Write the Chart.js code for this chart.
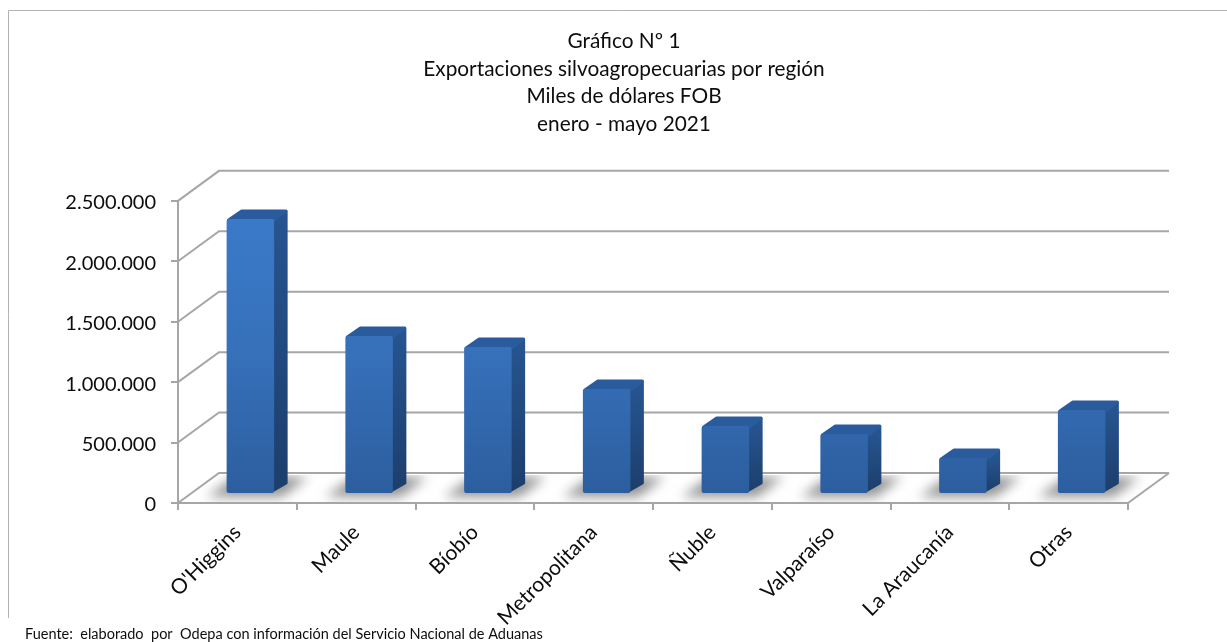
<!DOCTYPE html>
<html>
<head>
<meta charset="utf-8">
<style>
  html, body { margin: 0; padding: 0; background: #fff; }
  canvas { display: block; }
</style>
<script src="https://cdn.jsdelivr.net/npm/chart.js@4"></script>
</head>
<body>
<canvas id="regiones" width="1227" height="642"></canvas>
<script>
const regiones = ["O'Higgins", "Maule", "Bíobío", "Metropolitana", "Ñuble", "Valparaíso", "La Araucanía", "Otras"];
const exportaciones = [2276000, 1308000, 1217000, 869000, 563000, 497000, 298000, 695000];
const titulo = ["Gráfico Nº 1", "Exportaciones silvoagropecuarias por región", "Miles de dólares FOB", "enero - mayo 2021"];
const fuente = "Fuente:  elaborado  por  Odepa con información del Servicio Nacional de Aduanas";

const fontName = "Lato, 'Open Sans', sans-serif";
const textColor = "#0d0d0d";
const gridColor = "#a6a6a6";
// profundidad del piso y de las barras
const wallX = 41, wallY = -30;
const barShiftX = 13, barShiftY = -9;
const sideX = 14, sideY = -10;

function frontGradient(context) {
    const { ctx, chartArea } = context.chart;
    if (!chartArea) return "#3877c6";
    const g = ctx.createLinearGradient(0, chartArea.top, 0, chartArea.bottom);
    g.addColorStop(0, "#3b7bcc");
    g.addColorStop(0.55, "#3670b9");
    g.addColorStop(1, "#2c5e9f");
    return g;
}

// paredes 3D: lineas de fondo y diagonales
const wall3d = {
    id: "wall3d",
    beforeDatasetsDraw(chart) {
        const { ctx, scales } = chart;
        const x0 = scales.x.left, x1 = scales.x.right;
        ctx.save();
        ctx.strokeStyle = gridColor;
        ctx.lineWidth = 2;
        scales.y.ticks.forEach(t => {
            const y = scales.y.getPixelForValue(t.value);
            ctx.beginPath();
            ctx.moveTo(x0, y);
            ctx.lineTo(x0 + wallX, y + wallY);
            ctx.lineTo(x1 + wallX, y + wallY);
            ctx.stroke();
        });
        const y0 = scales.y.getPixelForValue(0);
        ctx.beginPath();
        ctx.moveTo(x1, y0);
        ctx.lineTo(x1 + wallX, y0 + wallY);
        ctx.stroke();

        // sombras sobre el piso
        const bars = chart.getDatasetMeta(0).data;
        bars.forEach(bar => {
            const l = bar.x - bar.width / 2 + barShiftX;
            const r = bar.x + bar.width / 2 + barShiftX;
            const b = y0 + barShiftY;
            ctx.save();
            ctx.beginPath();
            ctx.rect(x0, y0 + wallY + 2, x1 - x0 + wallX, -wallY - 3);
            ctx.clip();
            ctx.filter = "blur(6px)";
            ctx.fillStyle = "rgba(105,105,105,0.72)";
            ctx.beginPath();
            ctx.moveTo(l - 20, b + 3);
            ctx.lineTo(r + 8, b + 3);
            ctx.lineTo(r + 34, b - 17);
            ctx.lineTo(l + 8, b - 17);
            ctx.closePath();
            ctx.fill();
            ctx.restore();
        });
        ctx.restore();
    },
    // las barras se dibujan desplazadas hacia el centro del piso
    beforeDatasetDraw(chart) {
        chart.ctx.save();
        chart.ctx.translate(barShiftX, barShiftY);
        const { ctx } = chart;
        ctx.lineJoin = "round";
        ctx.lineWidth = 3;
        chart.getDatasetMeta(0).data.forEach(bar => {
            const r = bar.x + bar.width / 2;
            const l = bar.x - bar.width / 2;
            const g = ctx.createLinearGradient(0, bar.y, 0, bar.base);
            g.addColorStop(0, "#26548f");
            g.addColorStop(1, "#1c3e6b");
            ctx.fillStyle = g;
            ctx.strokeStyle = g;
            ctx.beginPath();
            ctx.moveTo(r - 2, bar.y + 3);
            ctx.lineTo(r + sideX - 2, bar.y + sideY + 3);
            ctx.lineTo(r + sideX - 2, bar.base + sideY);
            ctx.lineTo(r - 2, bar.base - 2);
            ctx.closePath();
            ctx.fill();
            ctx.stroke();
            ctx.fillStyle = "#2a5c9d";
            ctx.strokeStyle = "#2a5c9d";
            ctx.beginPath();
            ctx.moveTo(l + 2, bar.y + 1);
            ctx.lineTo(l + sideX + 1, bar.y + sideY + 2);
            ctx.lineTo(r + sideX - 2, bar.y + sideY + 2);
            ctx.lineTo(r, bar.y + 1);
            ctx.closePath();
            ctx.fill();
            ctx.stroke();
        });
    },
    afterDatasetDraw(chart) {
        chart.ctx.restore();
    },
    afterDraw(chart) {
        const { ctx } = chart;
        ctx.save();
        ctx.strokeStyle = "#b3b3b3";
        ctx.lineWidth = 1;
        ctx.beginPath();
        ctx.moveTo(8.5, 618);
        ctx.lineTo(8.5, 10.5);
        ctx.lineTo(1227, 10.5);
        ctx.stroke();
        ctx.fillStyle = textColor;
        ctx.font = "14.5px " + fontName;
        ctx.textBaseline = "alphabetic";
        ctx.fillText(fuente, 25, 639);
        ctx.restore();
    }
};

new Chart(document.getElementById("regiones"), {
    type: "bar",
    data: {
        labels: regiones,
        datasets: [{
            label: "Exportaciones",
            data: exportaciones,
            backgroundColor: frontGradient,
            borderRadius: 2,
            borderSkipped: false,
            barPercentage: 0.4,
            categoryPercentage: 1
        }]
    },
    plugins: [wall3d],
    options: {
        responsive: false,
        animation: false,
        devicePixelRatio: 1,
        // el titulo va centrado en 624: padding izquierdo + eje derecho vacio
        layout: { padding: { left: 21, right: 0, top: 0, bottom: 0 } },
        plugins: {
            legend: { display: false },
            tooltip: { enabled: false },
            title: {
                display: true,
                text: titulo,
                color: textColor,
                font: { family: fontName, size: 20.8, weight: "normal", lineHeight: 1.32 },
                padding: { top: 28, bottom: 63 }
            }
        },
        scales: {
            x: {
                afterFit(s) { s.height = 139; },
                grid: { drawOnChartArea: false, tickLength: 7, color: gridColor, lineWidth: 2 },
                border: { color: gridColor, width: 2 },
                ticks: {
                    minRotation: 45,
                    maxRotation: 45,
                    color: textColor,
                    font: { family: fontName, size: 21 },
                    padding: 10
                }
            },
            y: {
                min: 0,
                max: 2500000,
                afterFit(s) { s.width = 157; },
                grid: { drawOnChartArea: false, tickLength: 7, color: gridColor, lineWidth: 2 },
                border: { color: gridColor, width: 2 },
                ticks: {
                    stepSize: 500000,
                    color: textColor,
                    font: { family: fontName, size: 20 },
                    padding: 15,
                    labelOffset: 2,
                    callback: v => v.toLocaleString("de-DE")
                }
            },
            margen: {
                position: "right",
                afterFit(s) { s.width = 99; },
                grid: { display: false },
                border: { display: false },
                ticks: { display: false }
            }
        }
    }
});
</script>
</body>
</html>
